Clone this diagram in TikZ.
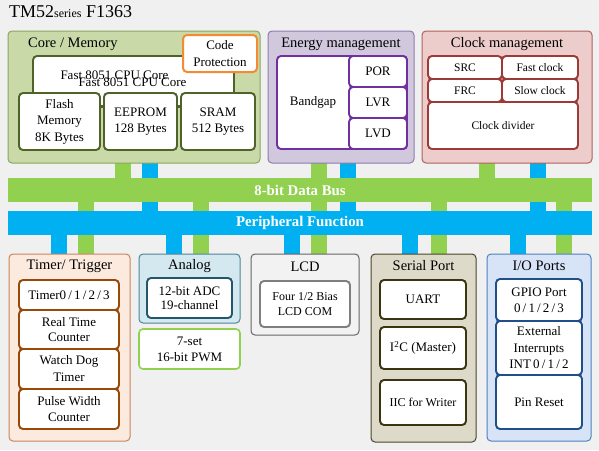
\documentclass[tikz,border=0pt]{standalone}
\usepackage{fontspec}
\setmainfont{Liberation Serif}
\newcommand\myfs[2]{\fontsize{#1}{#2}\selectfont}
\pgfdeclarelayer{bgl}
\pgfdeclarelayer{stubl}
\pgfsetlayers{bgl,stubl,main}
\definecolor{bgc}{HTML}{F0F0F0}
\definecolor{coreF}{HTML}{C9DAA8}
\definecolor{coreB}{HTML}{8AA55E}
\definecolor{coreI}{HTML}{4F6228}
\definecolor{orng}{HTML}{F58A34}
\definecolor{enF}{HTML}{D1C8DE}
\definecolor{enB}{HTML}{8E7CAC}
\definecolor{enI}{HTML}{7030A0}
\definecolor{clF}{HTML}{EDCDCB}
\definecolor{clB}{HTML}{B0605C}
\definecolor{clI}{HTML}{9B3A36}
\definecolor{busG}{HTML}{92D050}
\definecolor{perB}{HTML}{00B0F0}
\definecolor{tmF}{HTML}{FCEADE}
\definecolor{tmB}{HTML}{C8855A}
\definecolor{tmI}{HTML}{984807}
\definecolor{anF}{HTML}{D3E9EF}
\definecolor{anB}{HTML}{4F8599}
\definecolor{anI}{HTML}{23566A}
\definecolor{lcF}{HTML}{F2F2F2}
\definecolor{lcB}{HTML}{666666}
\definecolor{lcI}{HTML}{7F7F7F}
\definecolor{seF}{HTML}{DDDACA}
\definecolor{seB}{HTML}{4A452A}
\definecolor{seI}{HTML}{3B3410}
\definecolor{ioF}{HTML}{D7E4F8}
\definecolor{ioB}{HTML}{4F81BD}
\definecolor{ioI}{HTML}{1F4E88}
\begin{document}
\begin{tikzpicture}[x=1pt,y=-1pt,
  wh/.style 2 args={minimum width=#1pt, minimum height=#2pt, anchor=north west, inner sep=0pt, outer sep=0pt, align=center},
  outer/.style={rounded corners=4pt, line width=1pt},
  inner/.style={rounded corners=4pt, line width=1.9pt, fill=white, font=\myfs{13}{16}},
  ttl/.style={font=\myfs{14.5}{16}, inner sep=0pt},
  txt/.style={font=\myfs{13}{16}, inner sep=0pt, align=center},
  gst/.style={draw=busG, line width=16pt},
  bst/.style={draw=perB, line width=16pt},
  bar/.style={font=\bfseries\myfs{14.8}{16}, text=white}
]
\begin{pgfonlayer}{bgl}
\fill[bgc] (0,0) rectangle (599,450);
\end{pgfonlayer}
\useasboundingbox (0,0) rectangle (599,450);

% title
\node[anchor=base west, inner sep=0pt, font=\myfs{18}{20}] (title) at (9,17.5) {TM52{\myfs{12}{12}series} F1363};

% Core / Memory
\node[outer, draw=coreB, fill=coreF, wh={252}{132}] (core) at (8,31) {};
\node[ttl, anchor=west] (coreT) at (28,44) {Core / Memory};
\node[inner, draw=coreI, wh={201}{50}] (cpu) at (33,56) {};
\node[txt] (cpuA) at (114.5,75) {Fast 8051 CPU Core};
\node[txt] (cpuB) at (132.5,82) {Fast 8051 CPU Core};
\node[inner, draw=coreI, wh={81}{57}, font=\myfs{13}{16.5}] (flash) at (19,93) {Flash\\Memory\\8K Bytes};
\node[inner, draw=coreI, wh={73}{57}] (eeprom) at (104,93) {EEPROM\\128 Bytes};
\node[inner, draw=coreI, wh={74}{57}] (sram) at (181,93) {SRAM\\512 Bytes};
\draw[coreI, line width=1.8pt] (flash.east |- 0,107) -- (eeprom.west |- 0,107);
\draw[coreI, line width=1.8pt] (eeprom.east |- 0,107) -- (sram.west |- 0,107);
\node[inner, draw=orng, line width=2pt, wh={74}{37}, font=\myfs{13}{17}] (code) at (183,35) {Code\\Protection};

% Energy management
\node[outer, draw=enB, fill=enF, wh={146}{132}] (energy) at (268,31) {};
\node[ttl] (energyT) at (341,44) {Energy management};
\node[inner, draw=enI, wh={130}{93}] (bandgap) at (277,56) {};
\node[txt] (bandgapT) at (313,102) {Bandgap};
\node[inner, draw=enI, wh={58}{31}] (por) at (349,56) {POR};
\node[inner, draw=enI, wh={58}{31}] (lvr) at (349,87) {LVR};
\node[inner, draw=enI, wh={58}{31}] (lvd) at (349,118) {LVD};

% Clock management
\node[outer, draw=clB, fill=clF, wh={170}{132}] (clock) at (422,31) {};
\node[ttl] (clockT) at (507,44) {Clock management};
\node[inner, draw=clI, wh={74}{23}, font=\myfs{11.5}{14}] (src) at (428,56) {SRC};
\node[inner, draw=clI, wh={76}{23}, font=\myfs{11.5}{14}] (fast) at (502,56) {Fast clock};
\node[inner, draw=clI, wh={74}{23}, font=\myfs{11.5}{14}] (frc) at (428,79) {FRC};
\node[inner, draw=clI, wh={76}{23}, font=\myfs{11.5}{14}] (slow) at (502,79) {Slow clock};
\node[inner, draw=clI, wh={150}{47}, font=\myfs{11.5}{14}] (div) at (428,102) {Clock divider};

% buses
\node[fill=busG, wh={584}{24}, bar] (bus) at (8,178) {8-bit Data Bus};
\node[fill=perB, wh={584}{24}, bar] (per) at (8,211) {Peripheral Function};

% Timer / Trigger
\node[outer, draw=tmB, fill=tmF, wh={121}{187}] (timer) at (9,254) {};
\node[ttl] (timerT) at (69.5,266) {Timer/ Trigger};
\node[inner, draw=tmI, wh={100}{30}] (t0) at (19,280) {Timer0\,/\,1\,/\,2\,/\,3};
\node[inner, draw=tmI, wh={100}{39}, font=\myfs{13}{14.5}] (rtc) at (19,310) {Real Time\\Counter};
\node[inner, draw=tmI, wh={100}{40}, font=\myfs{13}{17}] (wdt) at (19,349) {Watch Dog\\Timer};
\node[inner, draw=tmI, wh={100}{40}] (pwc) at (19,389) {Pulse Width\\Counter};

% Analog
\node[outer, draw=anB, fill=anF, wh={101}{69}] (analog) at (139,254) {};
\node[ttl] (analogT) at (189.5,266) {Analog};
\node[inner, draw=anI, wh={85}{40}, font=\myfs{13}{14.5}] (adc) at (147,278) {12-bit ADC\\19-channel};
\node[inner, draw=busG, line width=1.6pt, wh={101}{40}] (pwm) at (139,329) {7-set\\16-bit PWM};

% LCD
\node[outer, draw=lcB, fill=lcF, wh={108}{81}] (lcd) at (251,254) {};
\node[ttl] (lcdT) at (305,267) {LCD};
\node[inner, draw=lcI, wh={90}{46}, font=\myfs{12}{15}] (lcdin) at (260,281) {Four 1/2 Bias\\LCD COM};

% Serial Port
\node[outer, draw=seB, fill=seF, wh={105}{188}] (serial) at (371,254) {};
\node[ttl] (serialT) at (423.5,266) {Serial Port};
\node[inner, draw=seI, wh={86}{39}] (uart) at (380,280) {UART};
\node[inner, draw=seI, wh={86}{42}] (iic) at (380,327) {I\textsuperscript{2}C (Master)};
\node[inner, draw=seI, wh={86}{45}, font=\myfs{12}{14}] (iicw) at (380,380) {IIC for Writer};

% I/O Ports
\node[outer, draw=ioB, fill=ioF, wh={104}{187}] (io) at (487,254) {};
\node[ttl] (ioT) at (539,266) {I/O Ports};
\node[inner, draw=ioI, wh={86}{42}] (gpio) at (496,279) {GPIO Port\\0\,/\,1\,/\,2\,/\,3};
\node[inner, draw=ioI, wh={86}{54}, font=\myfs{13}{16.5}] (ext) at (496,321) {External\\Interrupts\\INT\,0\,/\,1\,/\,2};
\node[inner, draw=ioI, wh={86}{54}] (pinr) at (496,375) {Pin Reset};

% stubs
\begin{pgfonlayer}{stubl}
\draw[gst] (123,0 |- core.south) -- (123,0 |- bus.north);
\draw[bst] (150,0 |- core.south) -- (150,0 |- per.north);
\draw[gst] (319,0 |- energy.south) -- (319,0 |- lcd.north);
\draw[bst] (348,0 |- energy.south) -- (348,0 |- per.north);
\draw[gst] (487,0 |- clock.south) -- (487,0 |- bus.north);
\draw[bst] (538,0 |- clock.south) -- (538,0 |- per.north);
\draw[bst] (59,0 |- per.south) -- (59,0 |- timer.north);
\draw[gst] (86,0 |- bus.south) -- (86,0 |- timer.north);
\draw[bst] (174,0 |- per.south) -- (174,0 |- analog.north);
\draw[gst] (201,0 |- bus.south) -- (201,0 |- analog.north);
\draw[bst] (292,0 |- per.south) -- (292,0 |- lcd.north);
\draw[bst] (410,0 |- per.south) -- (410,0 |- serial.north);
\draw[gst] (439,0 |- bus.south) -- (439,0 |- serial.north);
\draw[bst] (518,0 |- per.south) -- (518,0 |- io.north);
\draw[gst] (564,0 |- bus.south) -- (564,0 |- io.north);
\end{pgfonlayer}
\end{tikzpicture}
\end{document}
